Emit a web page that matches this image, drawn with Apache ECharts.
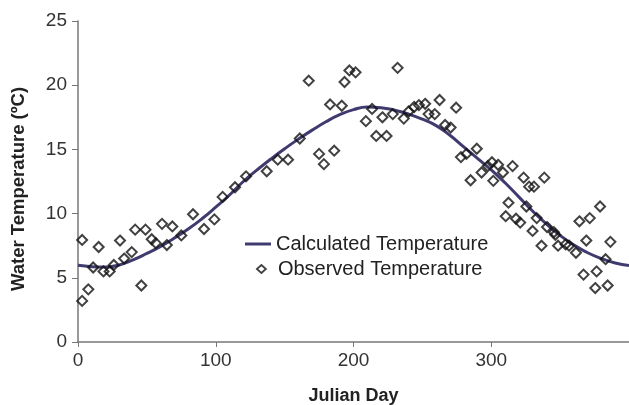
<!DOCTYPE html>
<html><head><meta charset="utf-8">
<script src="https://cdn.jsdelivr.net/npm/echarts@6/dist/echarts.min.js"></script>
<style>html,body{margin:0;padding:0;background:#fff}#c{width:629px;height:405px}</style>
</head><body><div id="c"></div>
<script>
var xTicks = [0, 100, 200, 300];
var yTicks = [0, 5, 10, 15, 20, 25];
var calcDays = [0,10,20,30,40,50,60,70,80,90,100,110,120,130,140,150,160,170,180,190,200,210,220,230,240,250,260,270,280,290,300,310,320,330,340,350,360,370,380,390,400];
var calcTemp = [5.98,5.87,5.84,6.0,6.4,6.9,7.45,8.1,8.8,9.6,10.5,11.45,12.5,13.4,14.25,15.05,15.8,16.5,17.15,17.7,18.1,18.3,18.25,18.05,17.75,17.35,16.85,16.1,15.2,14.3,13.4,12.4,11.3,10.2,9.2,8.3,7.55,6.95,6.5,6.15,5.95];
var obsDays = [3,3,7.5,11,15,18.5,23,26,30.5,33.5,39,41.5,46,49,53.5,56.5,61,64.5,68.5,75,83.5,91.5,99,105,114,122,137,145,152.5,161,167.5,175,178.5,183,186,191.5,193.5,197,201.5,209,213.5,216.5,221,224,228.5,232,236.5,240,244,247.5,252,254.5,259,262.5,266.5,270.5,274.5,278,282,285,289.5,293,297.5,300.5,301.5,305,308.5,310.5,312.5,315.5,318,321,323.5,325.5,327.5,330,331,333,336.5,338.5,340.5,345.5,346.5,348.5,354,356.5,361.5,364,367,369,371.5,376.5,375.5,379,383,384.5,386.5];
var obsTemp = [7.95,3.2,4.1,5.8,7.4,5.5,5.5,6.0,7.9,6.5,7.0,8.75,4.4,8.75,8.0,7.7,9.2,7.55,9.0,8.3,9.95,8.8,9.55,11.3,12.05,12.9,13.3,14.2,14.2,15.85,20.35,14.65,13.85,18.5,14.9,18.4,20.25,21.15,21.0,17.2,18.15,16.05,17.5,16.05,17.75,21.35,17.4,17.95,18.3,18.45,18.55,17.75,17.75,18.85,16.9,16.7,18.25,14.4,14.65,12.6,15.05,13.2,13.7,14.0,12.55,13.8,13.2,9.8,10.85,13.7,9.6,9.3,12.8,10.55,12.1,8.65,12.1,9.65,7.5,12.8,8.95,8.55,8.35,7.5,7.6,7.5,6.95,9.4,5.25,7.9,9.65,5.5,4.2,10.55,6.45,4.4,7.8];

var calcData = calcDays.map(function(d,i){return [d, calcTemp[i]];});
var obsData = obsDays.map(function(d,i){return [d, obsTemp[i]];});
var font = 'Liberation Sans, Arial, sans-serif';
var lineColor = '#3f3b6e';
var chart = echarts.init(document.getElementById('c'));
chart.setOption({
  animation: false,
  backgroundColor: '#fff',
  grid: {left: 78, right: 0, top: 21, bottom: 63, outerBoundsMode: 'none', containLabel: false},
  legend: [
    {
      orient: 'vertical', left: 245, top: 234, padding: 0, itemWidth: 26, itemHeight: 3, icon: 'rect',
      textStyle: {fontFamily: font, fontSize: 20, color: '#222'},
      data: ['Calculated Temperature']
    },
    {
      orient: 'vertical', left: 256, top: 259, padding: 0, itemWidth: 9, itemHeight: 8, icon: 'diamond',
      itemStyle: {color: '#fff', borderColor: '#111', borderWidth: 1.8},
      textStyle: {fontFamily: font, fontSize: 20, color: '#222', padding: [0, 0, 0, 7]},
      data: ['Observed Temperature']
    }
  ],
  xAxis: {
    type: 'value', min: 0, max: 400, interval: 100,
    name: 'Julian Day', nameLocation: 'middle', nameGap: 45,
    nameTextStyle: {fontFamily: font, fontSize: 18, fontWeight: 'bold', color: '#222'},
    axisLine: {lineStyle: {color: '#777', width: 1.5}},
    axisTick: {show: true, length: 5, lineStyle: {color: '#777'}},
    axisLabel: {fontFamily: font, fontSize: 19, color: '#333', margin: 9, showMaxLabel: false,
      formatter: function(v){ return xTicks.indexOf(v) >= 0 ? String(v) : ''; }},
    splitLine: {show: false}
  },
  yAxis: {
    type: 'value', min: 0, max: 25, interval: 5,
    name: 'Water Temperature (ºC)', nameLocation: 'middle', nameGap: 50,
    nameTextStyle: {fontFamily: font, fontSize: 18.5, fontWeight: 'bold', color: '#222', padding: [0, 15, 0, 0]},
    axisLine: {show: true, lineStyle: {color: '#777', width: 1.5}},
    axisTick: {show: true, length: 6, lineStyle: {color: '#777'}},
    axisLabel: {fontFamily: font, fontSize: 19, color: '#333', margin: 11,
      formatter: function(v){ return yTicks.indexOf(v) >= 0 ? String(v) : ''; }},
    splitLine: {show: false}
  },
  series: [
    {
      name: 'Calculated Temperature', type: 'line', data: calcData, smooth: true,
      showSymbol: false, symbol: 'none',
      lineStyle: {color: lineColor, width: 3},
      itemStyle: {color: lineColor}, z: 2
    },
    {
      name: 'Observed Temperature', type: 'scatter', data: obsData,
      symbol: 'diamond', symbolSize: 10,
      itemStyle: {color: 'rgba(255,255,255,0)', borderColor: '#111', borderWidth: 2}, z: 3
    }
  ]
});
</script></body></html>
